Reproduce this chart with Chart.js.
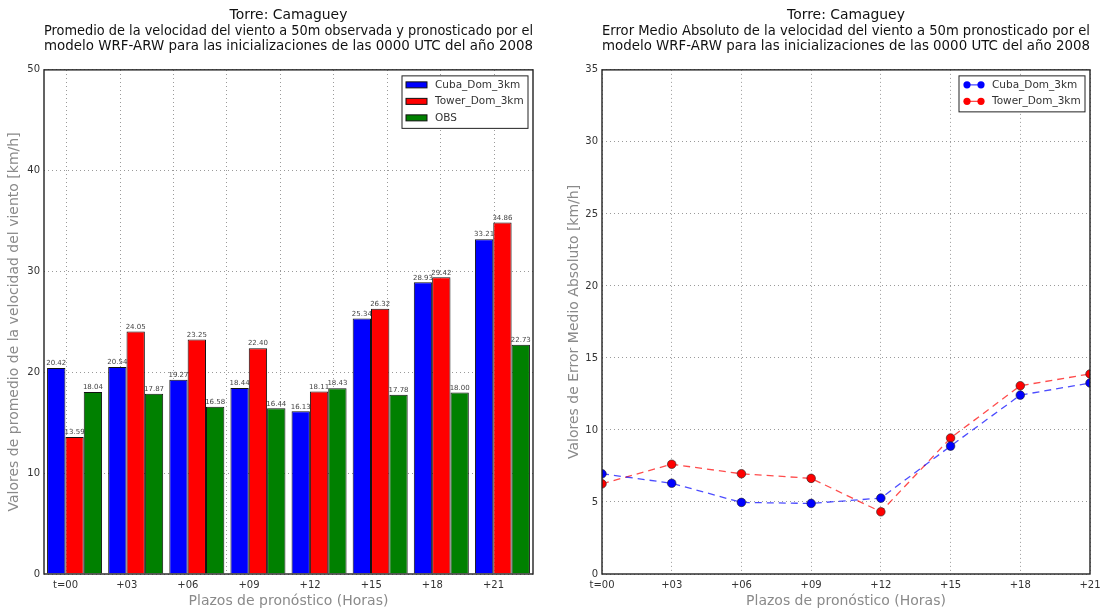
<!DOCTYPE html>
<html>
<head>
<meta charset="utf-8">
<script src="https://cdn.jsdelivr.net/npm/chart.js@4/dist/chart.umd.min.js"></script>
<style>
  body { margin: 0; background: #fff; }
  .box { position: absolute; top: 0; width: 554px; height: 609px; }
  #leftBox { left: 0; }
  #rightBox { left: 554px; }
</style>
</head>
<body>
<div class="box" id="leftBox"><canvas id="meanChart"></canvas></div>
<div class="box" id="rightBox"><canvas id="maeChart"></canvas></div>
<script>
var categories = ['t=00', '+03', '+06', '+09', '+12', '+15', '+18', '+21'];

var cubaMean  = [20.42, 20.54, 19.27, 18.44, 16.13, 25.34, 28.93, 33.21];
var towerMean = [13.59, 24.05, 23.25, 22.40, 18.11, 26.32, 29.42, 34.86];
var obsMean   = [18.04, 17.87, 16.58, 16.44, 18.43, 17.78, 18.00, 22.73];

var cubaMae  = [6.96, 6.30, 4.97, 4.90, 5.27, 8.88, 12.42, 13.26];
var towerMae = [6.26, 7.62, 6.96, 6.64, 4.32, 9.44, 13.07, 13.89];

var meanTicks = [0, 10, 20, 30, 40, 50];
var maeTicks  = [0, 5, 10, 15, 20, 25, 30, 35];

var FONT = "'DejaVu Sans', sans-serif";
Chart.defaults.font.family = FONT;
Chart.defaults.color = '#333';

var gridStyle = { color: '#9a9a9a', lineWidth: 1, drawTicks: false };
var dotted = { display: false, dash: [1, 3] };
var labelFont = { size: 14, lineHeight: 1.1 };

// black frame around the plot, like matplotlib spines
var framePlugin = {
  id: 'frame',
  afterDraw: function (chart) {
    var a = chart.chartArea, ctx = chart.ctx;
    ctx.save();
    ctx.strokeStyle = '#222';
    ctx.lineWidth = 1.4;
    ctx.strokeRect(a.left, a.top, a.right - a.left, a.bottom - a.top);
    ctx.restore();
  }
};

// numbers over each bar
var barLabels = {
  id: 'barLabels',
  afterDatasetsDraw: function (chart) {
    var ctx = chart.ctx;
    ctx.save();
    ctx.font = '7px ' + FONT;
    ctx.fillStyle = '#444';
    ctx.textAlign = 'center';
    ctx.textBaseline = 'bottom';
    chart.data.datasets.forEach(function (ds, di) {
      chart.getDatasetMeta(di).data.forEach(function (el, i) {
        ctx.fillText(ds.data[i].toFixed(2), el.x, el.y - 1);
      });
    });
    ctx.restore();
  }
};

// legend box inside the plot, top right
var boxLegend = {
  id: 'boxLegend',
  afterDraw: function (chart, args, opts) {
    var ctx = chart.ctx, a = chart.chartArea;
    var dsets = chart.data.datasets;
    var w = opts.width, rowH = 16.5;
    var h = dsets.length * rowH + 3;
    var x = a.right - w - 5, y = a.top + 6;
    ctx.save();
    ctx.fillStyle = '#fff';
    ctx.fillRect(x, y, w, h);
    ctx.strokeStyle = '#222';
    ctx.lineWidth = 1;
    ctx.strokeRect(x, y, w, h);
    ctx.font = '10.5px ' + FONT;
    ctx.textBaseline = 'middle';
    dsets.forEach(function (ds, i) {
      var cy = y + 9 + i * rowH;
      if (opts.kind === 'bar') {
        ctx.fillStyle = ds.backgroundColor;
        ctx.fillRect(x + 4, cy - 3, 21, 6);
        ctx.strokeStyle = '#111';
        ctx.strokeRect(x + 4, cy - 3, 21, 6);
      } else {
        ctx.strokeStyle = ds.borderColor;
        ctx.lineWidth = 1.3;
        ctx.beginPath();
        ctx.moveTo(x + 8, cy);
        ctx.lineTo(x + 22, cy);
        ctx.stroke();
        [x + 8, x + 22].forEach(function (px) {
          ctx.beginPath();
          ctx.arc(px, cy, 3.6, 0, Math.PI * 2);
          ctx.fillStyle = ds.pointBackgroundColor;
          ctx.fill();
        });
      }
      ctx.fillStyle = '#333';
      ctx.fillText(ds.label, x + 33, cy);
    });
    ctx.restore();
  }
};

function titleLines(second, third) {
  return ['Torre: Camaguey', second, third];
}

function axisTitle(text, top) {
  return { display: true, text: text, color: '#8a8a8a', font: labelFont, padding: { top: top, bottom: 0 } };
}

new Chart(document.getElementById('meanChart'), {
  type: 'bar',
  data: {
    labels: categories,
    datasets: [
      { label: 'Cuba_Dom_3km', data: cubaMean, backgroundColor: '#0000ff', borderColor: '#111', borderWidth: 1 },
      { label: 'Tower_Dom_3km', data: towerMean, backgroundColor: '#ff0000', borderColor: '#111', borderWidth: 1 },
      { label: 'OBS', data: obsMean, backgroundColor: '#008000', borderColor: '#111', borderWidth: 1 }
    ]
  },
  options: {
    responsive: true,
    maintainAspectRatio: false,
    animation: false,
    layout: { padding: { left: 0, right: 21, top: 0, bottom: 0 } },
    datasets: { bar: { categoryPercentage: 0.9, barPercentage: 1.0 } },
    plugins: {
      legend: { display: false },
      tooltip: { enabled: false },
      title: {
        display: true,
        fullSize: false,
        text: titleLines('Promedio de la velocidad del viento a 50m observada y pronosticado por el',
                         'modelo WRF-ARW para las inicializaciones de las 0000 UTC del año 2008'),
        color: '#111',
        font: { size: 13.9, weight: 'normal', lineHeight: 1.1 },
        padding: { top: 8, bottom: 16 }
      },
      boxLegend: { kind: 'bar', width: 126 }
    },
    scales: {
      x: {
        type: 'category',
        offset: true,
        grid: { display: false, drawTicks: false },
        border: { display: false },
        afterFit: function (s) { s.height = 35; },
        ticks: { autoSkip: false, maxRotation: 0, padding: 5, labelOffset: -9, font: { size: 10 } },
        title: axisTitle('Plazos de pronóstico (Horas)', 0)
      },
      // only carries the dotted vertical grid at the tick marks
      xt: {
        type: 'linear',
        position: 'top',
        min: 0,
        max: categories.length,
        grid: gridStyle,
        border: dotted,
        ticks: { display: false },
        afterBuildTicks: function (s) {
          s.ticks = categories.map(function (c, i) { return { value: i + 0.35 }; });
        },
        afterFit: function (s) { s.height = 0; }
      },
      y: {
        min: 0,
        max: 50,
        afterBuildTicks: function (s) {
          s.ticks = meanTicks.map(function (v) { return { value: v }; });
        },
        afterFit: function (s) { s.width = 44; },
        grid: gridStyle,
        border: dotted,
        ticks: { padding: 4, font: { size: 10 } },
        title: axisTitle('Valores de promedio de la velocidad del viento [km/h]', 7)
      }
    }
  },
  plugins: [framePlugin, barLabels, boxLegend]
});

new Chart(document.getElementById('maeChart'), {
  type: 'line',
  data: {
    labels: categories,
    datasets: [
      {
        label: 'Cuba_Dom_3km', data: cubaMae,
        borderColor: 'rgba(0,0,255,0.7)', borderWidth: 1.3, borderDash: [7, 5],
        pointRadius: 4.3, pointBackgroundColor: '#0000ff', pointBorderColor: '#222', pointBorderWidth: 0.6,
        tension: 0, clip: 0
      },
      {
        label: 'Tower_Dom_3km', data: towerMae,
        borderColor: 'rgba(255,0,0,0.7)', borderWidth: 1.3, borderDash: [7, 5],
        pointRadius: 4.3, pointBackgroundColor: '#ff0000', pointBorderColor: '#222', pointBorderWidth: 0.6,
        tension: 0, clip: 0
      }
    ]
  },
  options: {
    responsive: true,
    maintainAspectRatio: false,
    animation: false,
    layout: { padding: { left: 0, right: 18, top: 0, bottom: 0 } },
    plugins: {
      legend: { display: false },
      tooltip: { enabled: false },
      title: {
        display: true,
        fullSize: false,
        text: titleLines('Error Medio Absoluto de la velocidad del viento a 50m pronosticado por el',
                         'modelo WRF-ARW para las inicializaciones de las 0000 UTC del año 2008'),
        color: '#111',
        font: { size: 13.9, weight: 'normal', lineHeight: 1.1 },
        padding: { top: 8, bottom: 16 }
      },
      boxLegend: { kind: 'line', width: 126 }
    },
    scales: {
      x: {
        offset: false,
        grid: Object.assign({ offset: false }, gridStyle),
        border: dotted,
        afterFit: function (s) { s.height = 35; },
        ticks: { autoSkip: false, maxRotation: 0, padding: 5, font: { size: 10 } },
        title: axisTitle('Plazos de pronóstico (Horas)', 0)
      },
      y: {
        min: 0,
        max: 35,
        afterBuildTicks: function (s) {
          s.ticks = maeTicks.map(function (v) { return { value: v }; });
        },
        afterFit: function (s) { s.width = 48; },
        grid: gridStyle,
        border: dotted,
        ticks: { padding: 4, font: { size: 10 } },
        title: axisTitle('Valores de Error Medio Absoluto [km/h]', 13)
      }
    }
  },
  plugins: [framePlugin, boxLegend]
});
</script>
</body>
</html>
